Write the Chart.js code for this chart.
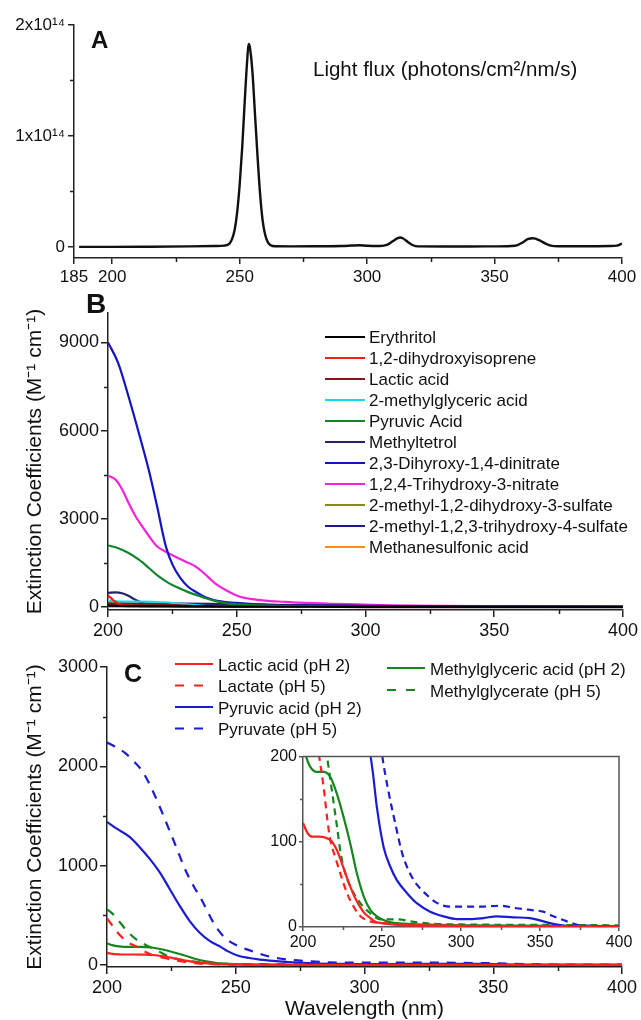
<!DOCTYPE html>
<html><head><meta charset="utf-8">
<script src="https://cdn.jsdelivr.net/npm/chart.js@4/dist/chart.umd.min.js"></script>
<style>
html,body{margin:0;padding:0;background:#fff;}
body{width:641px;height:1020px;position:relative;overflow:hidden;}
canvas{position:absolute;}
</style></head><body>
<canvas id="cA" width="641" height="290" style="left:0;top:0"></canvas>
<canvas id="cB" width="641" height="355" style="left:0;top:290px"></canvas>
<canvas id="cC" width="641" height="375" style="left:0;top:645px"></canvas>
<canvas id="cI" width="386" height="210" style="left:255px;top:745px"></canvas>
<script>
// ---------- Panel A: lamp spectrum (flux in units of 1e14 photons/cm2/nm/s) ----------
const lampWavelength = [187,200,215,230,240,244,246,247,248,249,250,251,252,253,253.5,254,255,256,257,258,259,260,261,262,264,270,280,290,294,297,300,305,308,310,312,313,314,316,318,320,330,340,350,358,361,363,365,366,368,370,372,375,385,395,398,400];
const lampFlux = [0,0,0.002,0.005,0.008,0.012,0.03,0.07,0.15,0.31,0.56,0.9,1.32,1.7,1.83,1.8,1.58,1.2,0.82,0.48,0.24,0.11,0.045,0.018,0.006,0.005,0.006,0.008,0.012,0.015,0.01,0.008,0.02,0.05,0.08,0.085,0.078,0.045,0.015,0.005,0.004,0.004,0.005,0.01,0.04,0.07,0.078,0.075,0.055,0.03,0.012,0.006,0.006,0.008,0.012,0.03];
const lampXTicks = [185,200,250,300,350,400];
const lampYTicks = [0,1,2];

// ---------- Panel B: extinction coefficients ----------
const erythritolNm = [200,204,208,215,230,250,280,320,400];
const erythritolEps = [45,40,35,30,25,15,10,5,3];
const dihydroxyisopreneNm = [200,201,202,203,204,206,208,212,220,240,280];
const dihydroxyisopreneEps = [390,320,240,170,110,70,50,35,20,10,3];
const pyruvicAcidBNm = [200,204,208,212,216,219.7,223.6,227.5,231.4,235.2,238,242,246,250,260,280,300,400];
const pyruvicAcidBEps = [2100,2000,1840,1610,1320,1040,815,645,500,385,300,200,130,90,50,20,10,5];
const methyltetrolNm = [200,203,205.5,207.5,209.4,211,212.6,214,216,220,240,260,280,300,400];
const methyltetrolEps = [480,500,470,400,310,230,170,140,125,120,110,80,50,30,10];
const dinitrateNm = [200,204,208,212,216,219,222.5,225,228,231,234,237,241,245,250,255,261,275,300,330,400];
const dinitrateEps = [9000,8290,7150,5910,4600,3450,2050,1450,1000,700,520,370,240,180,140,110,85,65,40,20,10];
const trihydroxyNitrateNm = [200,203,205.5,208,210.7,213.3,216,219,222.3,226,230,234,236.5,239,241.7,245.5,250.7,256,261,268,274,287,297,310,330,360,400];
const trihydroxyNitrateEps = [4470,4330,4000,3540,3090,2740,2400,2070,1890,1720,1550,1380,1210,1010,800,590,370,270,220,180,150,110,90,60,40,25,15];
const sulfateDihydroxyNm = [200,204,208,212,220,240,260,300,329];
const sulfateDihydroxyEps = [180,150,110,80,50,30,25,20,15];
const sulfateTrihydroxyNm = [200,210,220,230,240,250,270,300,400];
const sulfateTrihydroxyEps = [90,85,80,85,70,40,15,8,3];
const methanesulfonicNm = [200,210,250,300,400];
const methanesulfonicEps = [15,10,8,5,5];
const bXTicks = [200,250,300,350,400];
const bYTicks = [0,3000,6000,9000];

// ---------- Panel C: acid / conjugate base ----------
const lacticAcidNm = [200,203,206,210,214,218,221.5,224,227,230,233,236,239,242.6,246,250,260,280,300,400];
const lacticAcidEps = [122,110,106,106,105,101,90,78,62,47,34,24,16,10.5,6,4.5,2.5,1.5,1,0.5];
const lactateNm = [200,202,204,206,208,210.5,213,215.2,217.3,220.4,223.6,227.8,232,236.2,242.6,249,260,300,400];
const lactateEps = [470,400,330,275,230,197,165,129,102,82,63,40,24,13,6.6,4.7,3,1.5,0.5];
const pyruvicAcidNm = [200,203.6,208.8,212.7,216.6,220.5,224.4,228.3,232.2,236,240,244.3,246.8,251,255.2,259.4,265.7,272,280.5,289,297.4,305.8,314.2,322.6,333.2,343.7,352.2,360.6,373,400];
const pyruvicAcidEps = [1440,1375,1290,1186,1068,932,763,593,440,325,240,180,140,94,71,55,40,28,18,12.5,9.3,9.3,10.5,12.5,11.3,10.5,6.6,2.7,0.5,0.5];
const pyruvateNm = [200,203,207,210,214,218,221,224.4,227,230,233.5,236.8,240,242.6,246,250,254,258,263,268,272,277,285,293,306,314,325,335,344,352,358,367,377,400];
const pyruvateEps = [2240,2200,2136,2060,1940,1740,1560,1346,1180,983,800,654,490,373,270,203,160,125,85,62,50,40,28,24,24,24,25,22,20,18,13,6.6,1.6,1];
const methylglycericAcidNm = [200,202,204.6,208.9,213,217.3,221.5,225.7,229.9,234.1,238.4,242.6,246.8,253,263.6,280.5,300,400];
const methylglycericAcidEps = [218,200,188,182,182,176,156,129,98,63,36,20,12.5,6.6,3.9,2.7,2,1];
const methylglycerateNm = [200,202,205,208,211,214,216,218.3,221.5,224,226,230,234,238,242,246,249,255,260,270,280,300,350,400];
const methylglycerateEps = [560,520,430,335,265,215,190,160,118,85,68,47,34,24,17,11,9,9,9,6,4,3,2.5,2];
const cYTicks = [0,1000,2000,3000];
const insetXTicks = [200,250,300,350,400];
const insetYTicks = [0,100,200];

// ---------- helpers ----------
const FONT = "'Liberation Sans', Arial, Helvetica, sans-serif";
const AX = '#222';
Chart.defaults.font.family = FONT;

const pts = (xs, ys) => xs.map((x, i) => ({x: x, y: ys[i]}));
function series(label, xs, ys, color, extra) {
  return Object.assign({label: label, data: pts(xs, ys), borderColor: color, backgroundColor: color,
    borderWidth: 2.2, pointRadius: 0, fill: false, cubicInterpolationMode: 'monotone'}, extra || {});
}
function axis(o) {
  return {
    type: 'linear', min: o.min, max: o.max,
    afterBuildTicks: s => { s.ticks = o.ticks.map(v => ({value: v})); },
    afterFit: s => { if (o.width !== undefined) s.width = o.width; if (o.height !== undefined) s.height = o.height; },
    ticks: {font: {family: FONT, size: o.fs}, color: '#111', padding: o.pad, autoSkip: false,
      maxRotation: 0, minRotation: 0, callback: o.cb || (v => String(v))},
    grid: {drawOnChartArea: false, drawTicks: true, tickLength: o.tl, color: o.color || AX, lineWidth: 1.5},
    border: {display: true, color: o.color || AX, width: 1.5},
    title: o.title || {display: false}
  };
}
const annot = {
  id: 'annot',
  afterDraw(chart, args, opts) {
    const ctx = chart.ctx, ca = chart.chartArea;
    ctx.save();
    const mt = opts.minor;
    if (mt) {
      ctx.strokeStyle = mt.color; ctx.lineWidth = 1.5; ctx.setLineDash([]);
      (mt.x || []).forEach(v => {
        const p = Math.round(chart.scales.x.getPixelForValue(v)) + 0.5;
        ctx.beginPath(); ctx.moveTo(p, ca.bottom); ctx.lineTo(p, ca.bottom + mt.len); ctx.stroke();
      });
      (mt.y || []).forEach(v => {
        const p = Math.round(chart.scales.y.getPixelForValue(v)) + 0.5;
        ctx.beginPath(); ctx.moveTo(ca.left, p); ctx.lineTo(ca.left - mt.len, p); ctx.stroke();
      });
    }
    if (opts.frame) {
      ctx.strokeStyle = opts.frame; ctx.lineWidth = 1.5;
      ctx.beginPath(); ctx.moveTo(ca.left, ca.top); ctx.lineTo(ca.right, ca.top); ctx.lineTo(ca.right, ca.bottom); ctx.stroke();
    }
    (opts.texts || []).forEach(t => {
      ctx.font = t.font; ctx.fillStyle = '#111'; ctx.textAlign = 'left'; ctx.textBaseline = 'alphabetic';
      ctx.fillText(t.text, t.x, t.y);
    });
    const lg = opts.legend;
    if (lg) {
      lg.items.forEach(it => {
        const ds = chart.data.datasets[it.ds];
        ctx.strokeStyle = ds.borderColor; ctx.lineWidth = 2;
        ctx.setLineDash(it.dash ? [9, 10] : []);
        ctx.beginPath(); ctx.moveTo(it.x, it.y); ctx.lineTo(it.x + lg.lineLen, it.y); ctx.stroke();
        ctx.setLineDash([]);
        ctx.font = lg.font; ctx.fillStyle = '#111'; ctx.textAlign = 'left'; ctx.textBaseline = 'alphabetic';
        ctx.fillText(ds.label, it.x + lg.lineLen + lg.gap, it.y + lg.baseOff);
      });
    }
    ctx.restore();
  }
};
function makeChart(id, datasets, scales, padding, annotOpts) {
  return new Chart(document.getElementById(id), {
    type: 'line',
    data: {datasets: datasets},
    options: {
      responsive: false, animation: false, devicePixelRatio: 1,
      layout: {padding: padding},
      plugins: {legend: {display: false}, tooltip: {enabled: false}, annot: annotOpts},
      scales: scales
    },
    plugins: [annot]
  });
}

// ---------- Panel A ----------
makeChart('cA',
  [series('Light flux', lampWavelength, lampFlux, '#111', {borderWidth: 2.4})],
  {
    x: axis({min: 185, max: 400, ticks: lampXTicks, fs: 17, pad: 3, tl: 6, height: 32}),
    y: axis({min: -0.1, max: 2, ticks: lampYTicks, fs: 17, pad: 3, tl: 6, width: 74,
      cb: v => v === 0 ? '0' : v + 'x10\u00B9\u2074'})
  },
  {top: 25, right: 19, left: 0, bottom: 0},
  {
    minor: {x: [225, 275, 325, 375], y: [0.5, 1.5], len: 4, color: AX},
    texts: [
      {text: 'A', x: 91, y: 48, font: 'bold 24px ' + FONT},
      {text: 'Light flux (photons/cm\u00B2/nm/s)', x: 313, y: 76, font: '20.5px ' + FONT}
    ]
  }
);

// ---------- Panel B ----------
const yTitleB = {display: true, text: 'Extinction Coefficients (M\u207B\u00B9 cm\u207B\u00B9)', color: '#111',
  font: {family: FONT, size: 21, lineHeight: 1}, padding: {top: 25, bottom: 0}};
const bSets = [
  series('Erythritol', erythritolNm, erythritolEps, '#000000'),
  series('1,2-dihydroxyisoprene', dihydroxyisopreneNm, dihydroxyisopreneEps, '#ff1a1a'),
  series('Lactic acid', lacticAcidNm, lacticAcidEps, '#861818'),
  series('2-methylglyceric acid', methylglycericAcidNm, methylglycericAcidEps, '#12dcec'),
  series('Pyruvic Acid', pyruvicAcidBNm, pyruvicAcidBEps, '#10862c'),
  series('Methyltetrol', methyltetrolNm, methyltetrolEps, '#23236e'),
  series('2,3-Dihyroxy-1,4-dinitrate', dinitrateNm, dinitrateEps, '#1414c4'),
  series('1,2,4-Trihydroxy-3-nitrate', trihydroxyNitrateNm, trihydroxyNitrateEps, '#f522dc'),
  series('2-methyl-1,2-dihydroxy-3-sulfate', sulfateDihydroxyNm, sulfateDihydroxyEps, '#8a8a10'),
  series('2-methyl-1,2,3-trihydroxy-4-sulfate', sulfateTrihydroxyNm, sulfateTrihydroxyEps, '#1c1c86'),
  series('Methanesulfonic acid', methanesulfonicNm, methanesulfonicEps, '#ff8a1e')
];
makeChart('cB', bSets,
  {
    x: axis({min: 200, max: 400, ticks: bXTicks, fs: 18, pad: 3, tl: 7, height: 35}),
    y: axis({min: -100, max: 10000, ticks: bYTicks, fs: 18, pad: 2, tl: 7, width: 108, title: yTitleB})
  },
  {top: 23, right: 17, left: 0, bottom: 0},
  {
    minor: {x: [225, 275, 325, 375], y: [1500, 4500, 7500], len: 4, color: AX},
    texts: [{text: 'B', x: 86, y: 23, font: 'bold 28px ' + FONT}],
    legend: {lineLen: 40, gap: 4, baseOff: 6, font: '17px ' + FONT,
      items: bSets.map((d, i) => ({ds: i, x: 325, y: 47 + 21 * i}))}
  }
);

// ---------- Panel C ----------
const cSets = () => [
  series('Lactic acid (pH 2)', lacticAcidNm, lacticAcidEps, '#ff2020'),
  series('Lactate (pH 5)', lactateNm, lactateEps, '#ff2020', {borderDash: [9, 8]}),
  series('Pyruvic acid (pH 2)', pyruvicAcidNm, pyruvicAcidEps, '#1c1cd0'),
  series('Pyruvate (pH 5)', pyruvateNm, pyruvateEps, '#1c1cd0', {borderDash: [9, 8]}),
  series('Methylglyceric acid (pH 2)', methylglycericAcidNm, methylglycericAcidEps, '#14861c'),
  series('Methylglycerate (pH 5)', methylglycerateNm, methylglycerateEps, '#14861c', {borderDash: [9, 8]})
];
makeChart('cC', cSets(),
  {
    x: axis({min: 200, max: 400, ticks: bXTicks, fs: 18, pad: 3, tl: 7, height: 53,
      title: {display: true, text: 'Wavelength (nm)', color: '#111', font: {family: FONT, size: 21, lineHeight: 1}, padding: {top: 0, bottom: 0}}}),
    y: axis({min: -20, max: 3000, ticks: cYTicks, fs: 18, pad: 2, tl: 7, width: 107, title: yTitleB})
  },
  {top: 22, right: 19, left: 0, bottom: 0},
  {
    minor: {x: [225, 275, 325, 375], y: [500, 1500, 2500], len: 4, color: AX},
    texts: [{text: 'C', x: 124, y: 37, font: 'bold 25px ' + FONT}],
    legend: {lineLen: 38, gap: 5, baseOff: 6.5, font: '17px ' + FONT,
      items: [
        {ds: 0, x: 175, y: 19}, {ds: 1, x: 175, y: 40.5, dash: true},
        {ds: 2, x: 175, y: 62}, {ds: 3, x: 175, y: 83.5, dash: true},
        {ds: 4, x: 387, y: 23}, {ds: 5, x: 387, y: 45, dash: true}
      ]}
  }
);

// ---------- Inset ----------
const insetSets = cSets().map(d => { if (d.borderDash) d.borderDash = [7, 5]; return d; });
makeChart('cI', insetSets,
  {
    x: axis({min: 200, max: 400, ticks: insetXTicks, fs: 16, pad: 2, tl: 4, height: 28, color: '#555'}),
    y: axis({min: 0, max: 200, ticks: insetYTicks, fs: 16, pad: 2, tl: 4, width: 48, color: '#555'})
  },
  {top: 11, right: 22, left: 0, bottom: 0},
  {minor: {x: [225, 275, 325, 375], y: [50, 150], len: 3, color: '#555'}, frame: '#555'}
);
</script>
</body></html>
